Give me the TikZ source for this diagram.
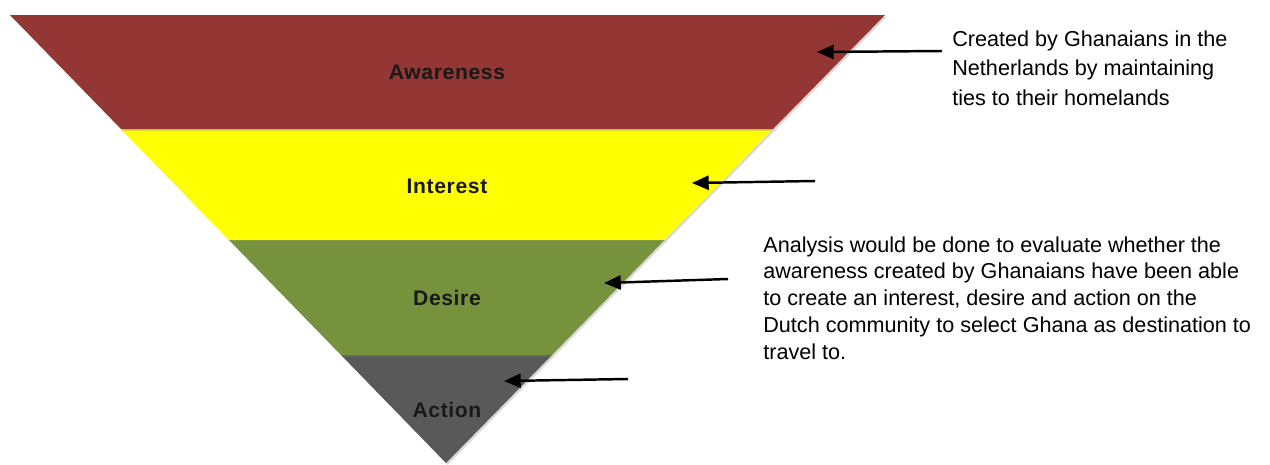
\documentclass[tikz,border=0pt]{standalone}
\usepackage{fontspec}
\setmainfont{Liberation Sans}
\usetikzlibrary{arrows.meta,shadows}

\definecolor{awarered}{HTML}{943634}
\definecolor{interestyellow}{HTML}{FFFF00}
\definecolor{desiregreen}{HTML}{76923C}
\definecolor{actiongray}{HTML}{595959}

\begin{document}
\begin{tikzpicture}[x=0.02cm,y=-0.02cm,
	band/.style={drop shadow={shadow xshift=1pt,shadow yshift=-1pt,opacity=0.3}},
	stage/.style={font=\fontsize{12}{14}\selectfont\bfseries\addfontfeature{LetterSpace=3}, text=black!90},
	note/.style={align=left, inner sep=0pt, anchor=north west},
	pointer/.style={-{Triangle[length=9.5pt,width=8pt]}, line width=1.4pt}]
		\useasboundingbox (0,0) rectangle (1270,464);
		
		\fill[actiongray, band] (341,355) -- (552,355) -- (446,463) -- cycle;
		\fill[desiregreen, band] (229,240) -- (664.5,240) -- (552,355) -- (341,355) -- cycle;
		\fill[interestyellow, band] (121,129) -- (773,129) -- (664.5,240) -- (229,240) -- cycle;
		\fill[awarered, band] (10,15) -- (885,15) -- (773,129) -- (121,129) -- cycle;
		
		\node[stage] (aware) at (447,72) {Awareness};
		\node[stage] (interest) at (447,186) {Interest};
		\node[stage] (desire) at (447,298) {Desire};
		\node[stage] (action) at (447,410) {Action};
		
		\node[note, font=\fontsize{12.3}{17}\selectfont] (created) at (952,30) {Created by Ghanaians in the\\Netherlands by maintaining\\ties to their homelands};
		\node[note, font=\fontsize{12.3}{15.3}\selectfont] (analysis) at (763,236) {Analysis would be done to evaluate whether the\\awareness created by Ghanaians have been able\\to create an interest, desire and action on the\\Dutch community to select Ghana as destination to\\travel to.};
		
		\coordinate (fromaware) at (942,51);
		\coordinate (toaware) at (817,52);
		\coordinate (frominterest) at (815,181);
		\coordinate (tointerest) at (692,183);
		\coordinate (fromdesire) at (728,279);
		\coordinate (todesire) at (604,283);
		\coordinate (fromaction) at (628,379);
		\coordinate (toaction) at (504,381);
		
		\draw[pointer] (fromaware) -- (toaware);
		\draw[pointer] (frominterest) -- (tointerest);
		\draw[pointer] (fromdesire) -- (todesire);
		\draw[pointer] (fromaction) -- (toaction);
\end{tikzpicture}
\end{document}
